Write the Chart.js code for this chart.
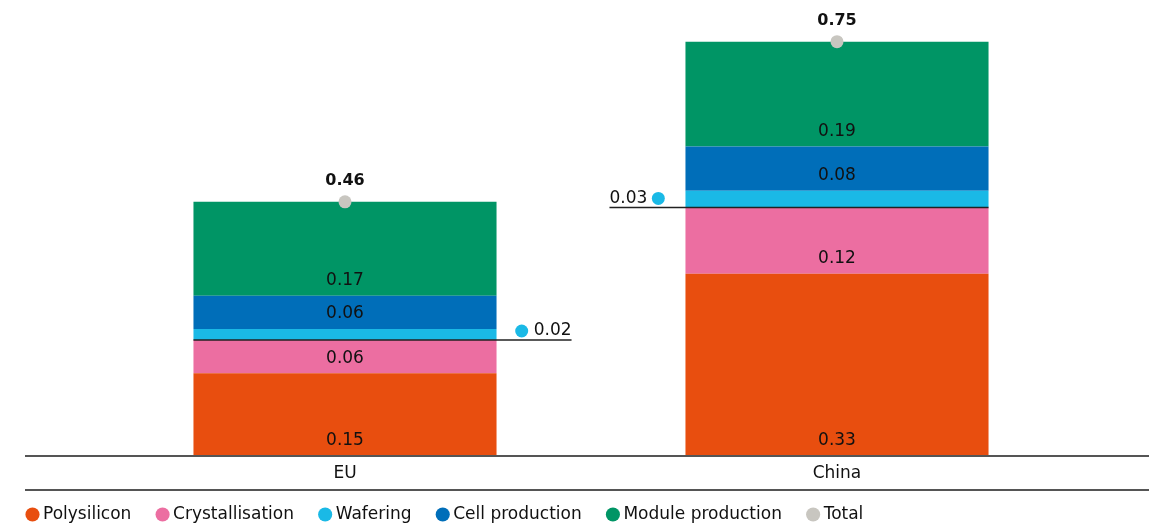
<!DOCTYPE html>
<html>
<head>
<meta charset="utf-8">
<script src="https://cdn.jsdelivr.net/npm/chart.js@4/dist/chart.umd.min.js"></script>
<style>
  html, body { margin: 0; padding: 0; background: #fff; overflow: hidden; }
  #wrap { position: relative; width: 1149px; height: 533px; }
</style>
</head>
<body>
<div id="wrap"><canvas id="costChart"></canvas></div>
<script>
// ── data ──
const categories = ['EU', 'China'];
const polysilicon = [0.15, 0.33];
const crystallisation = [0.06, 0.12];
const wafering = [0.02, 0.03];
const cellProduction = [0.06, 0.08];
const moduleProduction = [0.17, 0.19];
const totals = [0.46, 0.75];
const waferingSide = ['right', 'left'];

const FONT = '"DejaVu Sans", sans-serif';
const colors = {
  poly: '#e84e0f', cryst: '#ec6ea1', wafer: '#1ab9e6',
  cell: '#006eb9', module: '#009565', total: '#c8c6c0'
};

// segment labels, wafering callouts, totals, rule lines
const annotate = {
  id: 'annotate',
  afterDatasetsDraw(chart) {
    const ctx = chart.ctx;
    ctx.save();
    ctx.textAlign = 'center';
    ctx.textBaseline = 'middle';
    ctx.fillStyle = '#111';
    ctx.font = '17px ' + FONT;
    [0, 1, 3, 4].forEach(di => {
      const meta = chart.getDatasetMeta(di);
      meta.data.forEach((bar, i) => {
        const v = chart.data.datasets[di].data[i];
        ctx.fillText(v.toFixed(2), bar.x, bar.base - 15);
      });
    });

    // wafering callouts
    const wm = chart.getDatasetMeta(2);
    wm.data.forEach((bar, i) => {
      const half = bar.width / 2;
      const y = bar.base;
      const label = wafering[i].toFixed(2);
      ctx.strokeStyle = '#222';
      ctx.lineWidth = 1.5;
      ctx.font = '17px ' + FONT;
      ctx.beginPath();
      if (waferingSide[i] === 'right') {
        const end = bar.x + half + 75;
        ctx.moveTo(bar.x - half, y);
        ctx.lineTo(end, y);
        ctx.stroke();
        ctx.textAlign = 'right';
        ctx.fillStyle = '#111';
        ctx.fillText(label, end, y - 9);
        const tw = ctx.measureText(label).width;
        ctx.fillStyle = colors.wafer;
        ctx.beginPath();
        ctx.arc(end - tw - 12, y - 9, 6.5, 0, Math.PI * 2);
        ctx.fill();
      } else {
        const start = bar.x - half - 76;
        ctx.moveTo(start, y);
        ctx.lineTo(bar.x + half, y);
        ctx.stroke();
        ctx.textAlign = 'left';
        ctx.fillStyle = '#111';
        ctx.fillText(label, start, y - 9);
        const tw = ctx.measureText(label).width;
        ctx.fillStyle = colors.wafer;
        ctx.beginPath();
        ctx.arc(start + tw + 11, y - 9, 6.5, 0, Math.PI * 2);
        ctx.fill();
      }
    });

    // totals
    const tm = chart.getDatasetMeta(5);
    ctx.textAlign = 'center';
    ctx.fillStyle = '#111';
    ctx.font = 'bold 16px ' + FONT;
    tm.data.forEach((pt, i) => {
      ctx.fillText(totals[i].toFixed(2), pt.x, pt.y - 21);
    });

    // axis rules
    const base = chart.chartArea.bottom;
    ctx.strokeStyle = '#555';
    ctx.lineWidth = 2;
    ctx.beginPath();
    ctx.moveTo(25, base);
    ctx.lineTo(chart.width, base);
    ctx.moveTo(25, base + 34);
    ctx.lineTo(chart.width, base + 34);
    ctx.stroke();
    ctx.restore();
  }
};

// legend items get a little trailing space so the gaps match the reference
const baseLabels = Chart.defaults.plugins.legend.labels.generateLabels;

const ctx = document.getElementById('costChart').getContext('2d');
new Chart(ctx, {
  type: 'bar',
  data: {
    labels: categories,
    datasets: [
      { label: 'Polysilicon', data: polysilicon, backgroundColor: colors.poly },
      { label: 'Crystallisation', data: crystallisation, backgroundColor: colors.cryst },
      { label: 'Wafering', data: wafering, backgroundColor: colors.wafer },
      { label: 'Cell production', data: cellProduction, backgroundColor: colors.cell },
      { label: 'Module production', data: moduleProduction, backgroundColor: colors.module },
      { label: 'Total', data: totals, type: 'line', showLine: false, stack: 'total', order: -1,
        pointStyle: 'circle', pointRadius: 6.5, pointBackgroundColor: colors.total,
        backgroundColor: colors.total, borderColor: colors.total, borderWidth: 0 }
    ]
  },
  options: {
    responsive: true, maintainAspectRatio: false, animation: false, events: [],
    datasets: { bar: { categoryPercentage: 0.616, barPercentage: 1, borderWidth: 0 } },
    layout: { padding: { left: 17.5, right: 66, top: 14, bottom: 0 } },
    plugins: {
      tooltip: { enabled: false },
      legend: {
        position: 'bottom', align: 'start',
        labels: { usePointStyle: true, pointStyle: 'circle', boxWidth: 4, boxHeight: 10,
                  padding: 13, color: '#111', font: { family: FONT, size: 17 },
                  generateLabels: chart => baseLabels(chart).map(l => ({ ...l, text: l.text + '   ' })),
                  sort: (a, b) => a.datasetIndex - b.datasetIndex }
      }
    },
    scales: {
      x: { stacked: true, grid: { display: false, drawTicks: false }, border: { display: false },
           ticks: { color: '#111', padding: 7, font: { family: FONT, size: 17 } },
           afterFit: s => { s.height = 37; } },
      y: { stacked: true, min: 0, max: 0.8, grid: { display: false }, border: { display: false },
           ticks: { display: false }, afterFit: s => { s.width = 81.5; } }
    }
  },
  plugins: [annotate]
});
</script>
</body>
</html>
